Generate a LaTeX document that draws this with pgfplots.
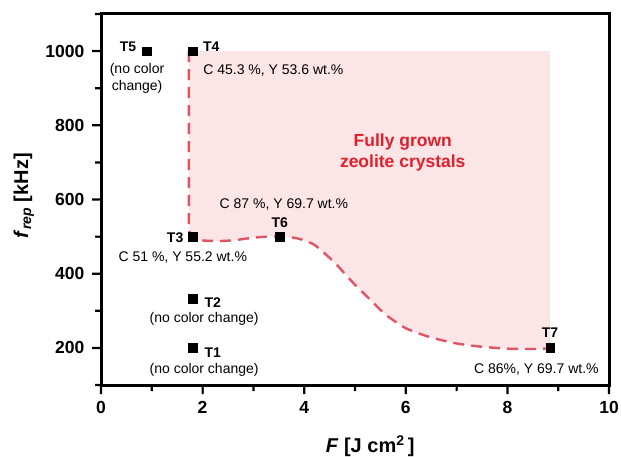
\documentclass[border=0pt]{standalone}
\usepackage{pgfplots}
\pgfplotsset{compat=1.18}
\usepackage{fontspec}
\setmainfont{Liberation Sans}
\definecolor{shade}{HTML}{FBE5E6}
\definecolor{dashred}{HTML}{E05563}
\definecolor{txtred}{HTML}{E0202C}
\begin{document}
\begin{tikzpicture}
\begin{axis}[name=ax, at={(0,0)}, anchor=south west,
  scale only axis, width=508pt, height=371pt,
  xmin=0, xmax=10, ymin=100, ymax=1100,
  xtick={0,2,...,10}, ytick={200,400,...,1000},
  minor xtick={1,3,...,9}, minor ytick={100,300,...,1100},
  xtick pos=left, ytick pos=left,
  tick align=outside,
  major tick length=8pt, minor tick length=5pt,
  tick label style={font=\fontsize{17.5}{20}\selectfont\bfseries, inner sep=1.5pt},
  xticklabel style={yshift=-7pt},
  yticklabel style={xshift=-7pt},
  /pgf/number format/assume math mode=true,
  /pgf/number format/1000 sep={},
  xlabel={\textbf{\textit{F}} \textbf{[J cm\textsuperscript{2}\,]}},
  ylabel={\textbf{\textit{f}}\textsubscript{\textbf{\textit{rep}}} \textbf{[kHz]}},
  xlabel style={font=\fontsize{20}{23}\selectfont, at={(axis description cs:0.53,-0.165)}, anchor=center},
  ylabel style={font=\fontsize{20}{23}\selectfont, at={(axis description cs:-0.152,0.51)}, anchor=center, rotate=0},
  clip=false,
]
\addplot[fill=shade, draw=none] coordinates {
 (1.73,1000) (1.73,560) (1.74,515) (1.8,495) (1.95,490) (2.3,488) (2.6,490) (3.0,497) (3.3,500) (3.52,500) (3.8,497) (4.0,490) (4.2,478) (4.4,455) (4.6,430) (4.8,400) (5.0,370) (5.3,330) (5.6,290) (6.0,253) (6.5,228) (7.0,212) (7.5,203) (8.0,198) (8.5,197) (8.84,199) (8.84,1000)} -- cycle;
\addplot[dashred, line width=2.4pt, dash pattern=on 11pt off 7pt, smooth, tension=0.4] coordinates {
 (1.73,1000) (1.73,560) (1.74,515) (1.8,495) (1.95,490) (2.3,488) (2.6,490) (3.0,497) (3.3,500) (3.52,500) (3.8,497) (4.0,490) (4.2,478) (4.4,455) (4.6,430) (4.8,400) (5.0,370) (5.3,330) (5.6,290) (6.0,253) (6.5,228) (7.0,212) (7.5,203) (8.0,198) (8.5,197) (8.84,199)};
\addplot[only marks, mark=square*, mark size=4.3pt, black, solid] coordinates {
 (0.9,1000) (1.8,1000) (1.8,500) (1.8,333) (1.8,200) (3.52,500) (8.84,200)};
\begin{scope}[every node/.style={font=\fontsize{14}{16}\selectfont, inner sep=0pt}]
\node[font=\fontsize{14}{16}\selectfont\bfseries] at (axis cs:0.53,1013) {T5};
\node[align=center] at (axis cs:0.71,927) {(no color\\[1pt]change)};
\node[font=\fontsize{14}{16}\selectfont\bfseries] at (axis cs:2.17,1013) {T4};
\node[anchor=west] at (axis cs:2.01,949) {C 45.3 \%, Y 53.6 wt.\%};
\node[align=center, text=txtred, font=\fontsize{17.5}{21}\selectfont\bfseries] at (axis cs:5.94,726) {Fully grown\\zeolite crystals};
\node at (axis cs:3.6,587) {C 87 \%, Y 69.7 wt.\%};
\node[font=\fontsize{14}{16}\selectfont\bfseries] at (axis cs:3.52,538) {T6};
\node[font=\fontsize{14}{16}\selectfont\bfseries] at (axis cs:1.46,498) {T3};
\node at (axis cs:1.61,444) {C 51 \%, Y 55.2 wt.\%};
\node[font=\fontsize{14}{16}\selectfont\bfseries] at (axis cs:2.2,323) {T2};
\node at (axis cs:2.03,279) {(no color change)};
\node[font=\fontsize{14}{16}\selectfont\bfseries] at (axis cs:2.2,187) {T1};
\node at (axis cs:2.03,141) {(no color change)};
\node[font=\fontsize{14}{16}\selectfont\bfseries] at (axis cs:8.84,240) {T7};
\node at (axis cs:8.57,141) {C 86\%, Y 69.7 wt.\%};
\end{scope}
\end{axis}
\draw[line width=3pt, black, solid] (ax.south west) rectangle (ax.north east);
% ticks as filled rectangles
\fill[black]
  (ax.south west) ++(-1.1pt,0pt) rectangle ++(2.2pt,-9pt)
  (ax.south west) ++(100.5pt,0pt) rectangle ++(2.2pt,-9pt)
  (ax.south west) ++(202.1pt,0pt) rectangle ++(2.2pt,-9pt)
  (ax.south west) ++(303.7pt,0pt) rectangle ++(2.2pt,-9pt)
  (ax.south west) ++(405.3pt,0pt) rectangle ++(2.2pt,-9pt)
  (ax.south west) ++(506.9pt,0pt) rectangle ++(2.2pt,-9pt)
  (ax.south west) ++(49.7pt,0pt) rectangle ++(2.2pt,-6pt)
  (ax.south west) ++(151.3pt,0pt) rectangle ++(2.2pt,-6pt)
  (ax.south west) ++(252.9pt,0pt) rectangle ++(2.2pt,-6pt)
  (ax.south west) ++(354.5pt,0pt) rectangle ++(2.2pt,-6pt)
  (ax.south west) ++(456.1pt,0pt) rectangle ++(2.2pt,-6pt)
  (ax.south west) ++(0pt,36pt) rectangle ++(-9pt,2.2pt)
  (ax.south west) ++(0pt,110.2pt) rectangle ++(-9pt,2.2pt)
  (ax.south west) ++(0pt,184.4pt) rectangle ++(-9pt,2.2pt)
  (ax.south west) ++(0pt,258.6pt) rectangle ++(-9pt,2.2pt)
  (ax.south west) ++(0pt,332.8pt) rectangle ++(-9pt,2.2pt)
  (ax.south west) ++(0pt,-1.1pt) rectangle ++(-6pt,2.2pt)
  (ax.south west) ++(0pt,73.1pt) rectangle ++(-6pt,2.2pt)
  (ax.south west) ++(0pt,147.3pt) rectangle ++(-6pt,2.2pt)
  (ax.south west) ++(0pt,221.5pt) rectangle ++(-6pt,2.2pt)
  (ax.south west) ++(0pt,295.7pt) rectangle ++(-6pt,2.2pt)
  (ax.south west) ++(0pt,369.9pt) rectangle ++(-6pt,2.2pt);
\pgfresetboundingbox
\path[use as bounding box] (ax.south west) ++(-101pt,-71pt) rectangle ([shift={(12pt,14pt)}]ax.north east);
\end{tikzpicture}
\end{document}
